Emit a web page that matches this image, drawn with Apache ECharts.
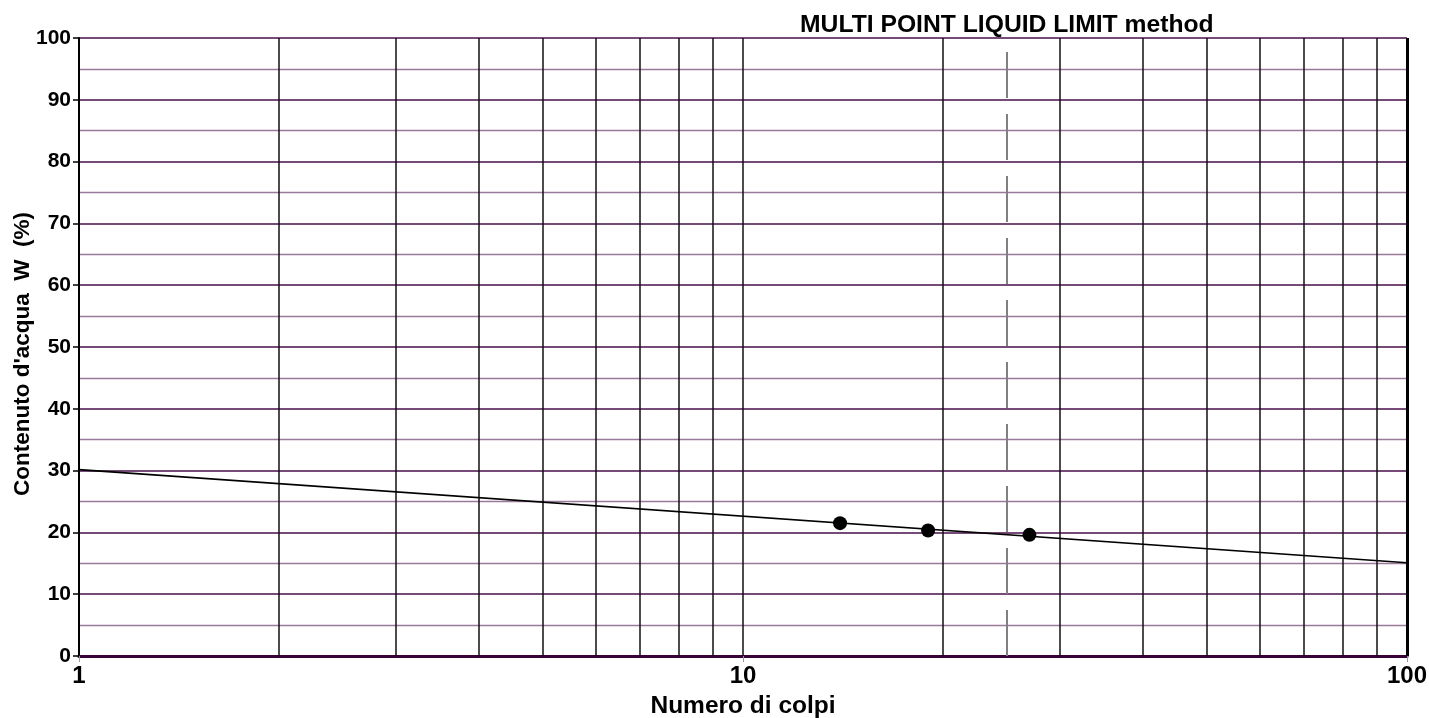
<!DOCTYPE html>
<html>
<head>
<meta charset="utf-8">
<script src="https://cdn.jsdelivr.net/npm/echarts@6/dist/echarts.min.js"></script>
<style>
	html, body { margin: 0; padding: 0; background: #fff; }
	#chart { width: 1429px; height: 718px; }
</style>
</head>
<body>
<div id="chart"></div>
<script>
// measured points (blows, water content %)
var blowCounts = [14, 19, 27];
var waterContent = [21.5, 20.3, 19.6];
// flow line end points
var fitX = [1, 100];
var fitY = [30.15, 15.1];
// vertical grid at log sub-divisions
var gridX = [2, 3, 4, 5, 6, 7, 8, 9, 10, 20, 30, 40, 50, 60, 70, 80, 90];
var liquidLimitBlows = 25;

var font = 'Liberation Sans, Arial, sans-serif';

function pairs(xs, ys) {
	var out = new Array();
	for(var i = 0; i < xs.length; i++) out[i] = [xs[i], ys[i]];
	return out;
}

var gridLines = new Array();
for(var i = 0; i < gridX.length; i++) gridLines.push({ xAxis: gridX[i] });
gridLines.push({ xAxis: 100, lineStyle: { color: '#000', width: 3, type: 'solid' } });

var mychart = echarts.init(document.getElementById('chart'));
var option = {
	animation: false,
	title: {
		text: 'MULTI POINT LIQUID LIMIT method',
		left: 795,
		top: 8,
		textStyle: { fontFamily: font, fontWeight: 'bold', fontSize: 24.7, color: '#000' }
	},
	grid: { left: 79, right: 22, top: 38, bottom: 62, outerBoundsMode: 'none', containLabel: false },
	xAxis: {
		type: 'log',
		logBase: 10,
		min: 1,
		max: 100,
		name: 'Numero di colpi',
		nameLocation: 'middle',
		nameGap: 38,
		nameTextStyle: { fontFamily: font, fontWeight: 'bold', fontSize: 24.5, color: '#000' },
		axisLine: { lineStyle: { color: '#3a003a', width: 3 } },
		axisTick: { show: true, length: 6, lineStyle: { color: '#999', width: 1 } },
		axisLabel: { fontFamily: font, fontWeight: 'bold', fontSize: 24, color: '#000', margin: 8 },
		splitLine: { show: false }
	},
	yAxis: {
		type: 'value',
		min: 0,
		max: 100,
		interval: 10,
		name: "Contenuto d'acqua  W  (%)",
		nameLocation: 'middle',
		nameGap: 45,
		nameMoveOverlap: false,
		nameTextStyle: { fontFamily: font, fontWeight: 'bold', fontSize: 22.5, color: '#000', padding: [0, 14, 0, 0] },
		axisLine: { show: true, lineStyle: { color: '#000', width: 2 } },
		axisTick: { show: true, length: 6, lineStyle: { color: '#000', width: 1.5 } },
		axisLabel: { fontFamily: font, fontWeight: 'bold', fontSize: 21, color: '#000', margin: 8 },
		splitLine: { show: true, lineStyle: { color: '#4a0f4a', width: 1.6 } },
		minorTick: { show: false, splitNumber: 2 },
		minorSplitLine: { show: true, lineStyle: { color: '#9a7a9a', width: 1.4 } }
	},
	series: [{
		name: 'flow line',
		type: 'line',
		data: pairs(fitX, fitY),
		showSymbol: false,
		symbol: 'none',
		lineStyle: { color: '#000', width: 1.6 },
		z: 5,
		markLine: {
			silent: true,
			symbol: ['none', 'none'],
			label: { show: false },
			lineStyle: { color: '#111', width: 1.5, type: 'solid' },
			data: gridLines.concat([
				[{ coord: [liquidLimitBlows, 0], lineStyle: { color: '#808080', width: 2, type: [46, 16] } },
				 { coord: [liquidLimitBlows, 100] }]
			])
		}
	}, {
		name: 'points',
		type: 'scatter',
		data: pairs(blowCounts, waterContent),
		symbol: 'circle',
		symbolSize: 14,
		itemStyle: { color: '#000', opacity: 1 },
		z: 6
	}]
};
mychart.setOption(option);
</script>
</body>
</html>
